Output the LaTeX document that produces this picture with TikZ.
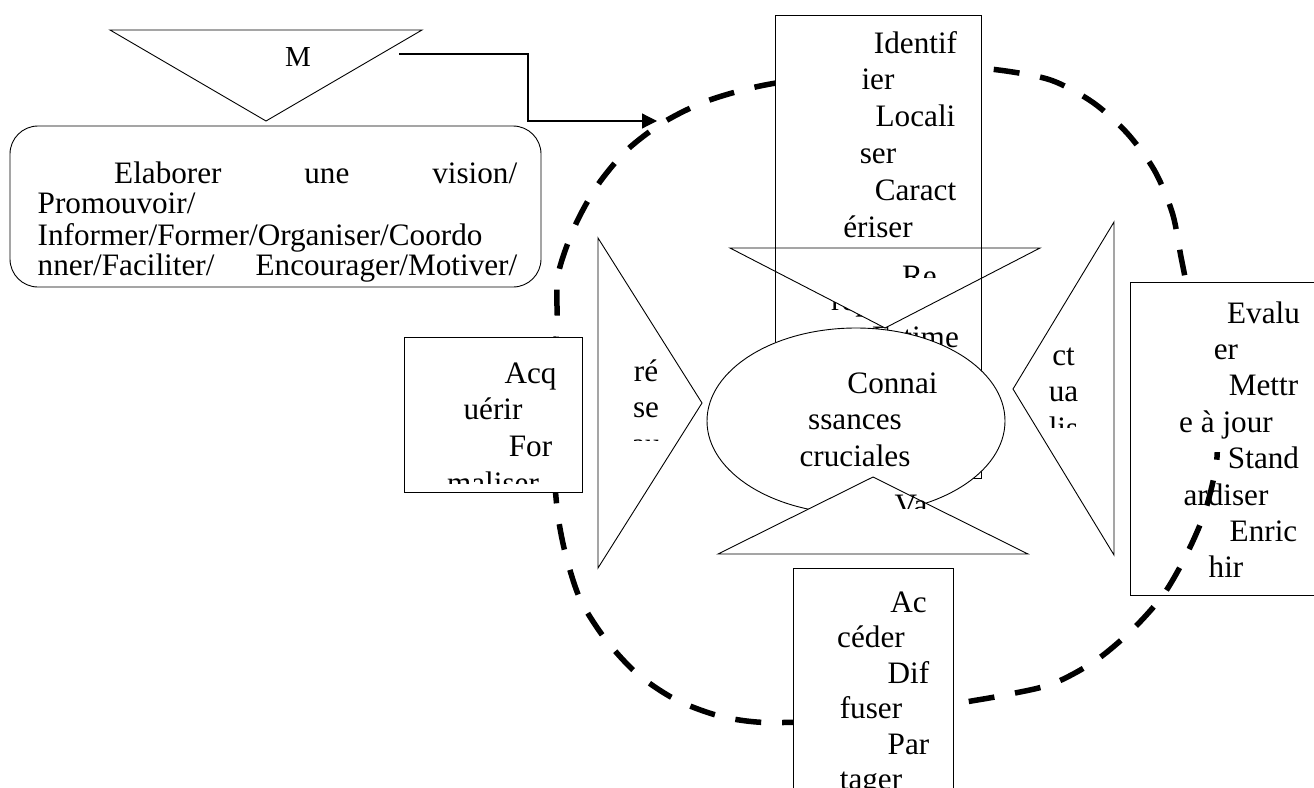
\documentclass[tikz,border=0pt]{standalone}
\usepackage{fontspec}
\setmainfont{Liberation Serif}
\usetikzlibrary{arrows.meta}

\newcommand{\ind}{\hspace*{75pt}}
\newcommand{\stack}[1]{\begin{tabular}[t]{@{}c@{}}#1\end{tabular}}
\newcommand{\circpath}{plot [smooth cycle] coordinates {(707,101) (760,86) (830,75) (900,69) (960,67) (1006,71) (1052,80.5) (1093,102.5) (1127,133) (1154.5,170.5) (1172.5,213.5) (1181.5,259.5) (1193,315) (1207,370) (1216,420) (1216.5,462.5) (1205,511.5) (1186.5,554.5) (1163.5,594.5) (1132,630) (1095,661) (1052,684) (1005,695) (968.5,701.5) (900,713) (840,720) (765.5,722.5) (719.5,716) (675.5,699.5) (637.5,674) (606,640) (580.5,600) (566,556) (558,516) (554,470) (553,420) (554,370) (557,320) (558,275) (574,228) (597,186) (627,150) (664,122)}}

\begin{document}
\begin{tikzpicture}[x=1pt,y=-1pt,
	shp/.style={draw=black,line width=0.9pt},
	wshp/.style={shp,fill=white},
	txt/.style={anchor=base,font=\fontsize{31.2}{36.8}\selectfont},
	circ/.style={line width=5.5pt,dash pattern=on 26pt off 21pt}]
		\tikzstyle{every node}+=[inner sep=0pt]
		\useasboundingbox (0,0) rectangle (1314,787);
		\draw [shp,rounded corners=28pt] (10,126) rectangle (541,287);
		\node [txt,anchor=base west,font=\fontsize{31.2}{30.6}\selectfont] (visiontxt) at (37.5,183.3)
			{\begin{tabular}[t]{@{}l@{}}\hspace*{76.5pt}\makebox[403pt][s]{Elaborer une vision/}\\
			Promouvoir/\\
			Informer/Former/Organiser/Coordo\\
			\makebox[479.5pt][s]{nner/Faciliter/ Encourager/Motiver/}\end{tabular}};
		\draw [shp] (110,30) -- (422,30) -- (266,121) -- cycle;
		\node [txt,font=\fontsize{29}{30}\selectfont] (mtxt) at (298,66) {M};
		\coordinate (astart) at (399,54);
		\coordinate (abend) at (528,54);
		\coordinate (aend) at (657,121);
		\draw [line width=1.2pt,-{Triangle[length=15pt,width=15pt]}] (astart) -- (abend) |- (aend);
		\draw [circ] \circpath;
		\draw [wshp] (775,15) rectangle (981,478);
		\node [txt] (idtxt) at (878,53) {\stack{\ind Identif\\ier\\ \ind Locali\\ser\\ \ind Caract\\ériser}};
		\node [txt,anchor=base west] (reptxt) at (831,310.6) {rép};
		\node [txt] (esttxt) at (878,347.4) {\stack{\ind Estime}};
		\fill [white] (730,248) -- (1040,248) -- (885,328) -- cycle;
		\draw [shp] (775,15) rectangle (981,478);
		\draw [shp] (730,248) -- (1040,248) -- (885,328) -- cycle;
		\begin{scope}
			\clip (740,250) rectangle (1030,277);
			\node [txt] (retxt) at (919.5,286) {Re};
		\end{scope}
		\draw [wshp] (404,337) rectangle (582,492);
		\begin{scope}
			\clip (405,338) rectangle (581,483);
			\node [txt] (acqtxt) at (493,383) {\stack{\ind Acq\\uérir\\ \ind For\\maliser}};
		\end{scope}
		\draw [wshp] (793,568) rectangle (953,800);
		\node [txt,font=\fontsize{31.2}{35.5}\selectfont] (actxt) at (871,612) {\stack{\ind Ac\\céder\\ \ind Dif\\fuser\\ \ind Par\\tager}};
		\draw [wshp] (1130,282) rectangle (1322,595);
		\node [txt,font=\fontsize{31.2}{36.4}\selectfont] (evtxt) at (1226,323) {\stack{\ind Evalu\\er\\ \ind Mettr\\e à jour\\ \ind Stand\\ardiser\\ \ind Enric\\hir}};
		\begin{scope}
			\clip (1131,452) rectangle (1321,594);
			\draw [circ] \circpath;
		\end{scope}
		\draw [shp] (598,238) -- (702,403) -- (598,568) -- cycle;
		\begin{scope}
			\clip (600,350) rectangle (700,440);
			\node [txt] (restxt) at (646,381) {\stack{ré\\se\\au}};
		\end{scope}
		\draw [shp] (1114,222) -- (1013,389) -- (1114,555) -- cycle;
		\begin{scope}
			\clip (1020,340) rectangle (1110,427);
			\node [txt] (cttxt) at (1063.5,365) {\stack{ct\\ua\\lis}};
		\end{scope}
		\draw [wshp] (856,421) ellipse [x radius=149pt,y radius=93pt];
		\node [txt] (conntxt) at (855,393) {\stack{\ind Connai\\ssances\\cruciales}};
		\draw [wshp] (718,554) -- (873,477) -- (1028,554) -- cycle;
		\begin{scope}
			\clip (760,480) rectangle (990,508);
			\node [txt] (vatxt) at (911,515.7) {Va};
		\end{scope}
\end{tikzpicture}
\end{document}
